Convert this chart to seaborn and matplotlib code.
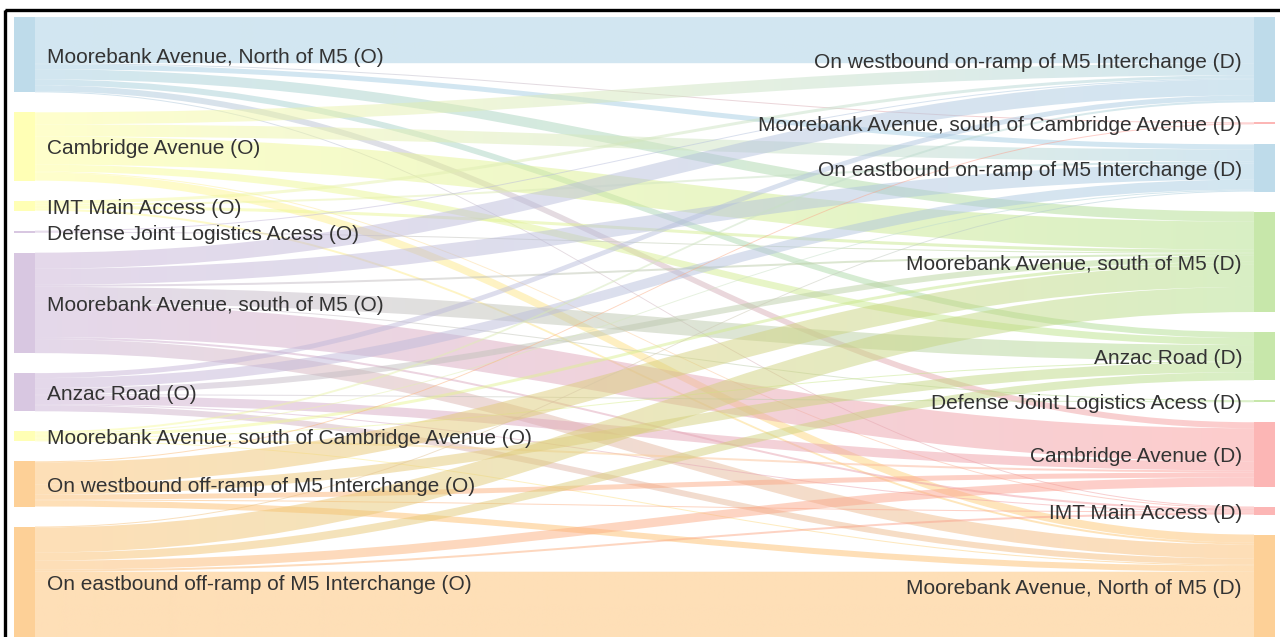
import numpy as np
import matplotlib
matplotlib.use("Agg")
import matplotlib.pyplot as plt
from matplotlib.path import Path
from matplotlib.patches import PathPatch, Rectangle
import seaborn as sns

# ---------------- data ----------------
origins = [
    "Moorebank Avenue, North of M5 (O)",
    "Cambridge Avenue (O)",
    "IMT Main Access (O)",
    "Defense Joint Logistics Acess (O)",
    "Moorebank Avenue, south of M5 (O)",
    "Anzac Road (O)",
    "Moorebank Avenue, south of Cambridge Avenue (O)",
    "On westbound off-ramp of M5 Interchange (O)",
    "On eastbound off-ramp of M5 Interchange (O)",
]
destinations = [
    "On westbound on-ramp of M5 Interchange (D)",
    "Moorebank Avenue, south of Cambridge Avenue (D)",
    "On eastbound on-ramp of M5 Interchange (D)",
    "Moorebank Avenue, south of M5 (D)",
    "Anzac Road (D)",
    "Defense Joint Logistics Acess (D)",
    "Cambridge Avenue (D)",
    "IMT Main Access (D)",
    "Moorebank Avenue, North of M5 (D)",
]
origin_colors = ["blue", "yellow", "yellow", "purple", "purple", "purple",
                 "yellow", "orange", "orange"]
destination_colors = ["blue", "red", "blue", "green", "green", "green",
                      "red", "red", "orange"]

# flows: origin index -> destination index, volume
link_from = [0, 0, 0, 0, 0, 0, 0,
             1, 1, 1, 1, 1, 1,
             2, 2, 2, 2,
             3, 3,
             4, 4, 4, 4, 4, 4, 4, 4,
             5, 5, 5, 5, 5, 5, 5,
             6, 6, 6, 6, 6, 6,
             7, 7, 7, 7, 7, 7,
             8, 8, 8, 8, 8, 8]
link_to = [0, 1, 2, 3, 4, 6, 7,
           0, 2, 3, 4, 7, 8,
           0, 2, 3, 8,
           0, 3,
           0, 2, 3, 4, 5, 6, 7, 8,
           0, 2, 3, 5, 6, 7, 8,
           0, 2, 3, 4, 6, 8,
           1, 3, 4, 6, 7, 8,
           2, 3, 4, 6, 7, 8]
link_volume = [46, 1, 5, 10, 6, 6, 1,
               12, 12, 28, 7, 1, 8,
               3, 2, 3, 2,
               1, 1,
               16, 16, 2, 16, 1, 33, 2, 14,
               5, 10, 6, 1, 9, 1, 6,
               2, 1, 3, 1, 2, 1,
               1, 22, 10, 5, 1, 6,
               1, 25, 8, 9, 2, 65]

# ---------------- style ----------------
sns.set_theme(style="white")
light = sns.color_palette("Paired")[::2]   # blue, green, red, orange, purple, yellow
palette = dict(zip(["blue", "green", "red", "orange", "purple", "yellow"], light))
plt.rcParams["font.family"] = ["Liberation Sans", "DejaVu Sans"]

W, H = 1280, 637
fig = plt.figure(figsize=(W / 100, H / 100), dpi=100)
ax = fig.add_axes([0, 0, 1, 1])
ax.axis("off")

top, bottom, gap = 17, 637, 20
xl0, xl1 = 14, 35        # left node bar
xr0, xr1 = 1254, 1275    # right node bar
link_alpha, node_alpha = 0.5, 0.72
curv = 0.42
fs = 15.0
txt_color = "#333333"
txt_dy = 2.5

n_o, n_d = len(origins), len(destinations)
out_tot = np.zeros(n_o)
in_tot = np.zeros(n_d)
for s, t, v in zip(link_from, link_to, link_volume):
    out_tot[s] += v
    in_tot[t] += v
total = max(out_tot.sum(), in_tot.sum())
k = (bottom - top - gap * (n_o - 1)) / total


def stack(sizes):
    ys, y = [], top
    for s in sizes:
        ys.append(y)
        y += s * k + gap
    return ys


o_y = stack(out_tot)
d_y = stack(in_tot)

# link offsets: out-links sorted by destination, in-links sorted by origin
order = sorted(range(len(link_volume)), key=lambda i: (link_from[i], link_to[i]))
o_off = list(o_y)
src_pos = {}
for i in order:
    src_pos[i] = o_off[link_from[i]]
    o_off[link_from[i]] += link_volume[i] * k
order2 = sorted(range(len(link_volume)), key=lambda i: (link_to[i], link_from[i]))
d_off = list(d_y)
dst_pos = {}
for i in order2:
    dst_pos[i] = d_off[link_to[i]]
    d_off[link_to[i]] += link_volume[i] * k

g = np.linspace(0, 1, 256)[:, None]
dx = xr0 - xl1
for i in range(len(link_volume)):
    h = link_volume[i] * k
    y0, y1 = src_pos[i], dst_pos[i]
    verts = [(xl1, y0), (xl1 + curv * dx, y0), (xr0 - curv * dx, y1), (xr0, y1),
             (xr0, y1 + h), (xr0 - curv * dx, y1 + h), (xl1 + curv * dx, y0 + h),
             (xl1, y0 + h), (xl1, y0)]
    codes = [Path.MOVETO, Path.CURVE4, Path.CURVE4, Path.CURVE4,
             Path.LINETO, Path.CURVE4, Path.CURVE4, Path.CURVE4, Path.CLOSEPOLY]
    patch = PathPatch(Path(verts, codes), facecolor="none", edgecolor="none")
    ax.add_patch(patch)
    c0 = np.array(palette[origin_colors[link_from[i]]])
    c1 = np.array(palette[destination_colors[link_to[i]]])
    rgb = (1 - g) * c0 + g * c1
    img = np.concatenate([rgb, np.full((256, 1), link_alpha)], axis=1)[None, :, :]
    im = ax.imshow(img, extent=[xl1, xr0, max(y0, y1) + h + 1, min(y0, y1) - 1],
                   aspect="auto", interpolation="bilinear", zorder=1)
    im.set_clip_path(patch)

# nodes
for j in range(n_o):
    ax.add_patch(Rectangle((xl0, o_y[j]), xl1 - xl0, max(out_tot[j] * k, 1.5),
                           color=palette[origin_colors[j]], alpha=node_alpha,
                           lw=0, zorder=2))
    ax.text(47, o_y[j] + out_tot[j] * k / 2 + txt_dy, origins[j], ha="left",
            va="center", fontsize=fs, color=txt_color, zorder=3)
for j in range(n_d):
    ax.add_patch(Rectangle((xr0, d_y[j]), xr1 - xr0, max(in_tot[j] * k, 1.5),
                           color=palette[destination_colors[j]], alpha=node_alpha,
                           lw=0, zorder=2))
    ax.text(1242, d_y[j] + in_tot[j] * k / 2 + txt_dy, destinations[j], ha="right",
            va="center", fontsize=fs, color=txt_color, zorder=3)

# frame of the screenshot
ax.add_patch(Rectangle((5, 10), W + 20, H + 20, fill=False, ec="black",
                       lw=2.4, zorder=4))

ax.set_xlim(0, W)
ax.set_ylim(H, 0)
fig.savefig("out.png", dpi=100, facecolor="white")
